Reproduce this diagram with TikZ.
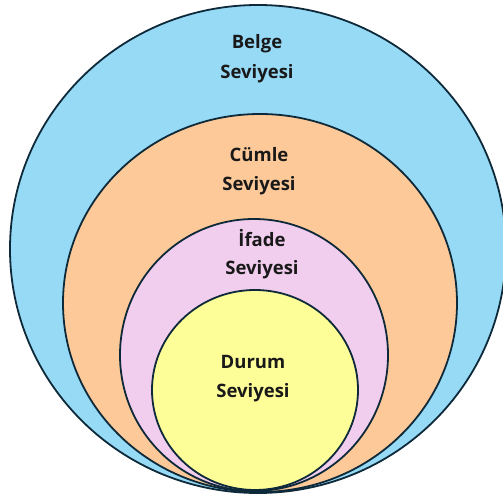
\documentclass[tikz,border=0pt]{standalone}
\usepackage{fontspec}
\setmainfont{Open Sans}
\usetikzlibrary{positioning}
\definecolor{rimblue}{HTML}{0E2A3A}
\definecolor{belgeblue}{HTML}{96DAF6}
\definecolor{cumleorange}{HTML}{FDC998}
\definecolor{ifadepink}{HTML}{F1CDEE}
\definecolor{durumyellow}{HTML}{FEFE99}
\begin{document}
\begin{tikzpicture}[line cap=round, line join=round, x=1pt, y=-1pt, font=\fontsize{18.5}{30}\selectfont\bfseries]
			\tikzset{level/.style={draw=rimblue, line width=1.8pt}, lbl/.style={anchor=base, inner sep=0pt, text=black!90}}
			\useasboundingbox (0,0) rectangle (503,497);
			\begin{scope}
			\clip (0,0) rectangle (503,497);
			\filldraw[level, fill=belgeblue] (258,249) ellipse [x radius=248, y radius=244];
			\filldraw[level, fill=cumleorange] (260,303) ellipse [x radius=197, y radius=189];
			\filldraw[level, fill=ifadepink] (254,355) ellipse [x radius=134, y radius=136];
			\filldraw[level, fill=durumyellow] (255,390) ellipse [x radius=103, y radius=100];
			\end{scope}
			\node[lbl] (belge) at (257,49) {Belge};
			\node[lbl] (belgesev) at (257,79) {Seviyesi};
			\node[lbl] (cumle) at (259,162) {Cümle};
			\node[lbl] (cumlesev) at (259,190) {Seviyesi};
			\node[lbl] (ifade) at (262,246) {İfade};
			\node[lbl] (ifadesev) at (262,274) {Seviyesi};
			\node[lbl] (durum) at (253,368) {Durum};
			\node[lbl] (durumsev) at (253,397) {Seviyesi};
		\end{tikzpicture}
\end{document}
